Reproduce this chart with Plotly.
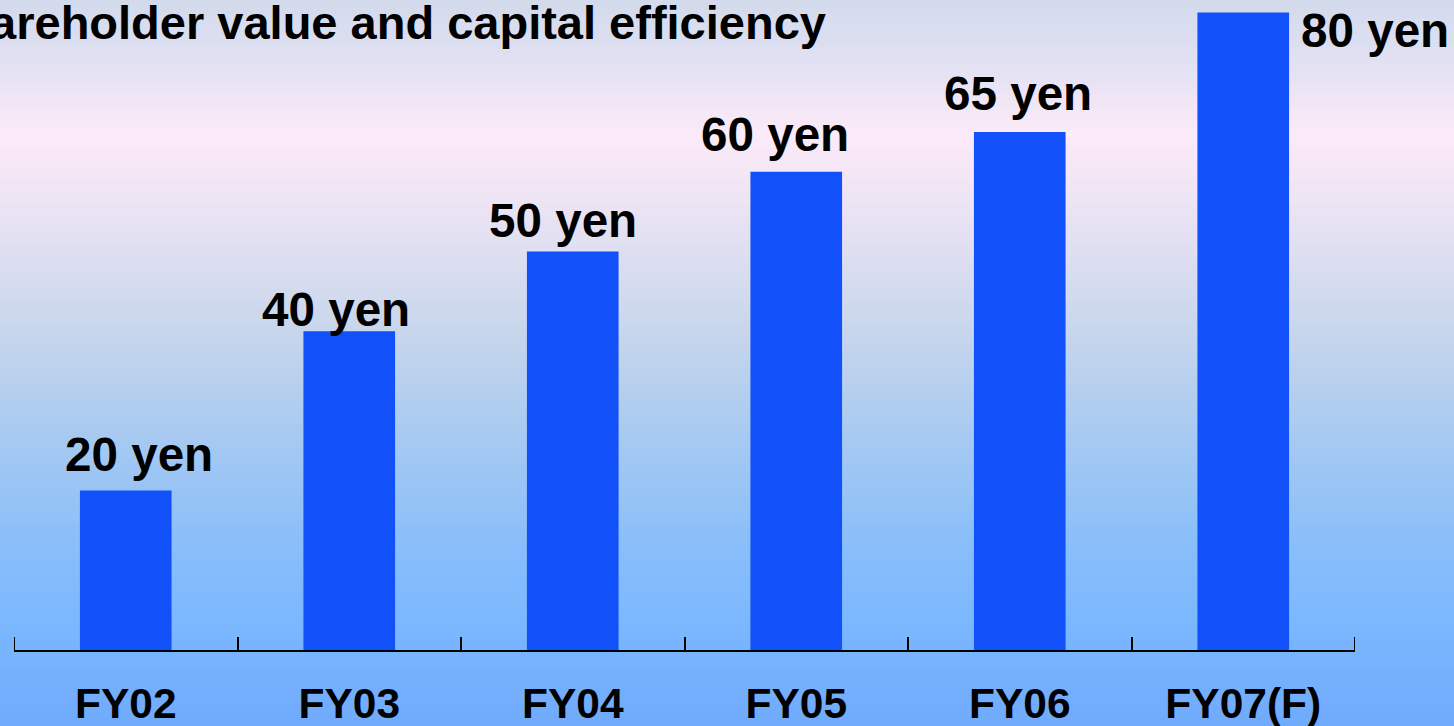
import plotly.graph_objects as go

# Dividend per share by fiscal year
years = ["FY02", "FY03", "FY04", "FY05", "FY06", "FY07(F)"]
dividends = [20, 40, 50, 60, 65, 80]
unit = "yen"
title_text = "Shareholder value and capital efficiency"

FONT = "Liberation Sans, Arial, sans-serif"
BAR_COLOR = "#1250F9"
LABEL_SIZE = 47.6

W, H = 1454, 726
M_L, M_R, M_T, M_B = 14, 99, 10, 76
PX_PER_YEN = 7.97
TICK_LEN = 13

# Hand-placed nudges for the value labels (pixels)
label_dx = [13, -13, -10, -21, -2]
label_dy = [8, -7, 3, 9, 10]

fig = go.Figure()
fig.add_trace(go.Bar(
    x=years, y=dividends, width=0.41,
    marker=dict(color=BAR_COLOR, line=dict(width=0)),
    hoverinfo="skip",
))

# Vertical background gradient built from thin horizontal bands
stops = [
    (0, (210, 218, 236)),
    (60, (224, 224, 242)),
    (135, (252, 234, 248)),
    (200, (238, 228, 244)),
    (260, (220, 222, 240)),
    (330, (200, 214, 236)),
    (400, (178, 206, 238)),
    (470, (158, 198, 244)),
    (550, (136, 190, 250)),
    (620, (124, 184, 255)),
    (726, (112, 170, 252)),
]


def color_at(py):
    for (y0, c0), (y1, c1) in zip(stops, stops[1:]):
        if y0 <= py <= y1:
            t = (py - y0) / (y1 - y0)
            return tuple(round(a + (b - a) * t) for a, b in zip(c0, c1))
    return stops[-1][1]


plot_h = H - M_T - M_B
plot_w = W - M_L - M_R
shapes = []
step = 3
for py in range(0, H, step):
    r, g, b = color_at(py + step / 2)
    y_top = 1 - (py - M_T) / plot_h
    y_bot = 1 - (py + step - M_T) / plot_h
    shapes.append(dict(
        type="rect", xref="paper", yref="paper", layer="below",
        x0=-0.05, x1=1.1, y0=y_bot, y1=y_top + 0.001,
        fillcolor=f"rgb({r},{g},{b})", line=dict(width=0),
    ))

# Outer boundary ticks at both ends of the category axis
for edge in (-0.5, len(years) - 0.5):
    shapes.append(dict(
        type="line", xref="x", yref="paper", layer="above",
        x0=edge, x1=edge, y0=0, y1=TICK_LEN / plot_h,
        line=dict(color="black", width=2),
    ))

annotations = []
for (cat, val), dx, dy in zip(zip(years[:-1], dividends[:-1]), label_dx, label_dy):
    annotations.append(dict(
        x=cat, y=val, xref="x", yref="y", text=f"<b>{val} {unit}</b>",
        showarrow=False, yanchor="bottom", xshift=dx, yshift=dy,
        font=dict(family=FONT, size=LABEL_SIZE, color="black"),
    ))
# The tallest bar carries its label on the right side
annotations.append(dict(
    x=years[-1], y=dividends[-1], xref="x", yref="y",
    text=f"<b>{dividends[-1]} {unit}</b>",
    showarrow=False, xanchor="left", yanchor="top", xshift=56, yshift=10,
    font=dict(family=FONT, size=LABEL_SIZE, color="black"),
))
annotations.append(dict(
    x=(828 - M_L) / plot_w, y=1 + (M_T + 6) / plot_h,
    xref="paper", yref="paper", xanchor="right", yanchor="top",
    text=f"<b>{title_text}</b>", showarrow=False,
    font=dict(family=FONT, size=47, color="black"),
))

fig.update_layout(
    width=W, height=H,
    margin=dict(l=M_L, r=M_R, t=M_T, b=M_B, pad=0, autoexpand=False),
    paper_bgcolor="rgb(170,200,245)",
    plot_bgcolor="rgba(0,0,0,0)",
    showlegend=False,
    shapes=shapes,
    annotations=annotations,
)
fig.update_xaxes(
    type="category", range=[-0.5, 5.5], automargin=False,
    showline=True, linecolor="black", linewidth=2,
    ticks="inside", tickson="boundaries", ticklen=TICK_LEN, tickwidth=2,
    tickcolor="black",
    showgrid=False, zeroline=False,
    tickfont=dict(family=FONT, size=42.5, color="black"),
    tickprefix="<b>", ticksuffix="</b>",
    ticklabelstandoff=15,
)
fig.update_yaxes(
    range=[0, plot_h / PX_PER_YEN], visible=False, automargin=False,
    showgrid=False, zeroline=False,
)

fig.write_html("out.html", config={"displayModeBar": False})
